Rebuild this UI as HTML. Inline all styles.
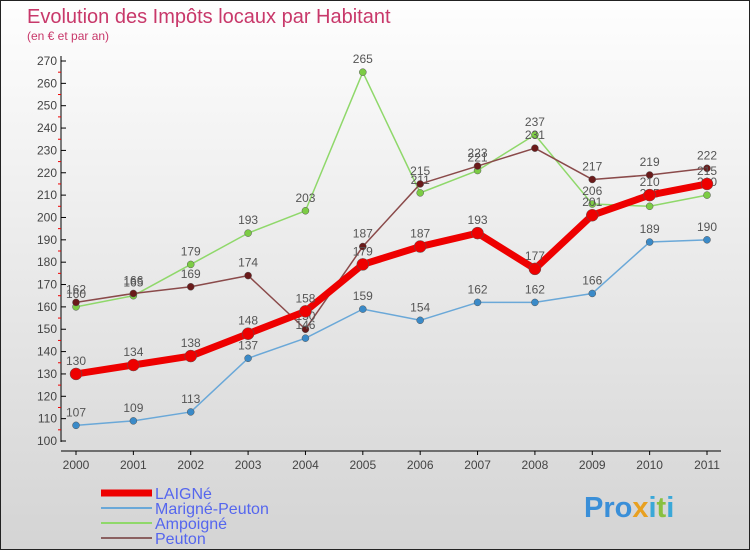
<!DOCTYPE html>
<html><head><meta charset="utf-8"><style>
body{margin:0}
#c{width:750px;height:550px;position:relative;box-sizing:border-box;border:1px solid #222;background:linear-gradient(#fefefe,#d4d4d4);font-family:"Liberation Sans","DejaVu Sans",sans-serif;overflow:hidden}
svg text{font-family:"Liberation Sans",sans-serif}
</style></head><body>
<div id="c">
<svg width="750" height="550">
<text x="26" y="22" font-size="20" fill="#c8386a">Evolution des Impôts locaux par Habitant</text>
<text x="26" y="39" font-size="12" fill="#c8386a">(en € et par an)</text>
<g id="axes"></g><g id="series"></g><g id="legend"></g>
<text x="583" y="516" font-size="29" font-weight="bold" fill="#3a8fd8">Pro<tspan fill="#e8a020">x</tspan><tspan fill="#3aa8d8">i</tspan><tspan fill="#88c040">t</tspan><tspan fill="#3aa8d8">i</tspan></text>
</svg></div>
<script>
const years=[2000,2001,2002,2003,2004,2005,2006,2007,2008,2009,2010,2011];
const laigne=[130,134,138,148,158,179,187,193,177,201,210,215];
const marigne=[107,109,113,137,146,159,154,162,162,166,189,190];
const ampoigne=[160,165,179,193,203,265,211,221,237,206,205,210];
const peuton=[162,166,169,174,150,187,215,223,231,217,219,222];
const yTicks=[100,110,120,130,140,150,160,170,180,190,200,210,220,230,240,250,260,270];
const NS="http://www.w3.org/2000/svg";
const X=i=>75+i*(706-75)/11, Y=v=>440-(v-100)*380/170;
function mk(t,a,p){const e=document.createElementNS(NS,t);for(const k in a)e.setAttribute(k,a[k]);p.appendChild(e);return e;}
const ax=document.getElementById('axes');
let e=mk('line',{x1:60,y1:55,x2:60,y2:441,stroke:'#000'},ax);


e=mk('line',{x1:60,y1:450,x2:720,y2:450,stroke:'#000'},ax);


yTicks.forEach(v=>{mk('line',{x1:60,y1:Y(v),x2:65,y2:Y(v),stroke:'#000'},ax);
 if(v<270)mk('line',{x1:57,y1:Y(v+5),x2:60,y2:Y(v+5),stroke:'#e00'},ax);
 const t=mk('text',{x:56,y:Y(v)+4,'font-size':12,fill:'#444','text-anchor':'end'},ax);t.textContent=v;
 
 });
years.forEach((y,i)=>{mk('line',{x1:X(i),y1:450,x2:X(i),y2:454,stroke:'#000'},ax);
 const t=mk('text',{x:X(i),y:468,'font-size':12,fill:'#444','text-anchor':'middle'},ax);t.textContent=y;
 
 });
const S=document.getElementById('series');
function draw(arr,col,w,r,dot,name){const g=mk('g',{},S);
 
 
 mk('polyline',{points:arr.map((v,i)=>X(i)+','+Y(v)).join(' '),fill:'none',stroke:col,'stroke-width':w,'stroke-linejoin':'round'},g);
 arr.forEach((v,i)=>{const c=mk('circle',{cx:X(i),cy:Y(v),r:r,fill:dot,stroke:'#555','stroke-width':0.5},g);
  
  
  const t=mk('text',{x:X(i),y:Y(v)-9,'font-size':12,fill:'#555','text-anchor':'middle'},g);t.textContent=v;
  
  });}
draw(ampoigne,'#8fd86a',1.5,3.5,'#7ccc44','ampoigne');
draw(peuton,'#8a4a4a',1.5,3.5,'#6a1a1a','peuton');
draw(marigne,'#6aa8d8',1.5,3.5,'#3a8ac8','marigne-peuton');
draw(laigne,'#ee0000',7,6,'#ee0000','laigne');
const L=document.getElementById('legend');
[['LAIGNé','#ee0000',7],['Marigné-Peuton','#6aa8d8',2],['Ampoigné','#8fd86a',2],['Peuton','#8a6060',2]].forEach((d,i)=>{
 const y=492+i*15;
 const g=mk('g',{},L);
 
 
 mk('line',{x1:100,y1:y,x2:151,y2:y,stroke:d[1],'stroke-width':d[2]},g);
 const t=mk('text',{x:154,y:y+6,'font-size':16,fill:'#5566ee'},g);t.textContent=d[0];});
</script>
</body></html>
